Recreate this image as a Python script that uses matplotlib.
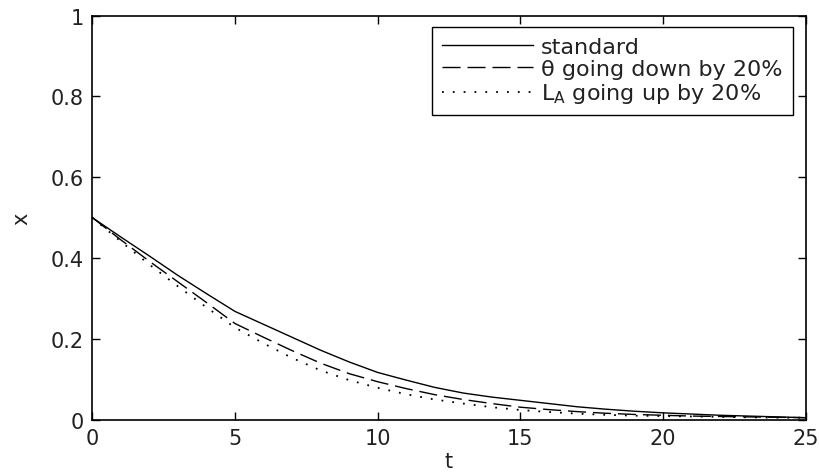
import matplotlib
matplotlib.use("Agg")
import matplotlib.pyplot as plt
import numpy as np

plt.rcParams['font.family'] = ['DejaVu Sans']
plt.rcParams['mathtext.fontset'] = 'dejavusans'

t = list(range(0, 26))
standard = [0.500, 0.452, 0.405, 0.357, 0.312, 0.268, 0.236, 0.204, 0.172, 0.143,
            0.117, 0.098, 0.080, 0.066, 0.056, 0.048, 0.040, 0.032, 0.026, 0.021,
            0.017, 0.014, 0.011, 0.009, 0.007, 0.005]
theta_down = [0.500, 0.445, 0.392, 0.341, 0.290, 0.238, 0.204, 0.171, 0.140, 0.114,
              0.094, 0.077, 0.062, 0.050, 0.040, 0.031, 0.025, 0.020, 0.016, 0.013,
              0.011, 0.009, 0.008, 0.007, 0.006, 0.005]
la_up = [0.500, 0.441, 0.384, 0.330, 0.278, 0.228, 0.189, 0.153, 0.122, 0.098,
         0.079, 0.063, 0.050, 0.040, 0.031, 0.024, 0.019, 0.015, 0.012, 0.010,
         0.009, 0.008, 0.007, 0.006, 0.005, 0.005]

labels = ['standard', 'θ going down by 20%', r'L$_\mathregular{A}$ going up by 20%']
xticks = [0, 5, 10, 15, 20, 25]
yticks = [0, 0.2, 0.4, 0.6, 0.8, 1]
yticklabels = ['0', '0.2', '0.4', '0.6', '0.8', '1']

text_color = '#222222'

fig = plt.figure(figsize=(8.19, 4.77), dpi=100)
ax = fig.add_axes([0.1127, 0.118, 0.8709, 0.8474])

ax.plot(t, standard, color='black', lw=1.0, linestyle='-', label=labels[0])
ax.plot(t, theta_down, color='black', lw=1.0, linestyle=(0, (13, 5)), label=labels[1])
ax.plot(t, la_up, color='black', lw=1.3, linestyle=(0, (1, 5)), label=labels[2])

ax.set_xlim(0, 25)
ax.set_ylim(0, 1)
ax.set_xticks(xticks)
ax.set_yticks(yticks)
ax.set_yticklabels(yticklabels)
ax.tick_params(direction='in', length=6, width=1, top=True, right=True,
               labelsize=15, pad=6, labelcolor=text_color)
for s in ax.spines.values():
    s.set_linewidth(1.2)

ax.set_xlabel('t', fontsize=15, labelpad=2, color=text_color)
ax.set_ylabel('x', fontsize=15, labelpad=14, color=text_color)

leg = ax.legend(loc='upper right', bbox_to_anchor=(0.982, 0.9715), borderaxespad=0,
                fontsize=16, handlelength=4.1, handletextpad=0.35, labelspacing=0.1,
                fancybox=False, framealpha=1, edgecolor='black', borderpad=0.45)
leg.get_frame().set_linewidth(1.0)
for txt in leg.get_texts():
    txt.set_color(text_color)

fig.savefig('out.png', dpi=100)
